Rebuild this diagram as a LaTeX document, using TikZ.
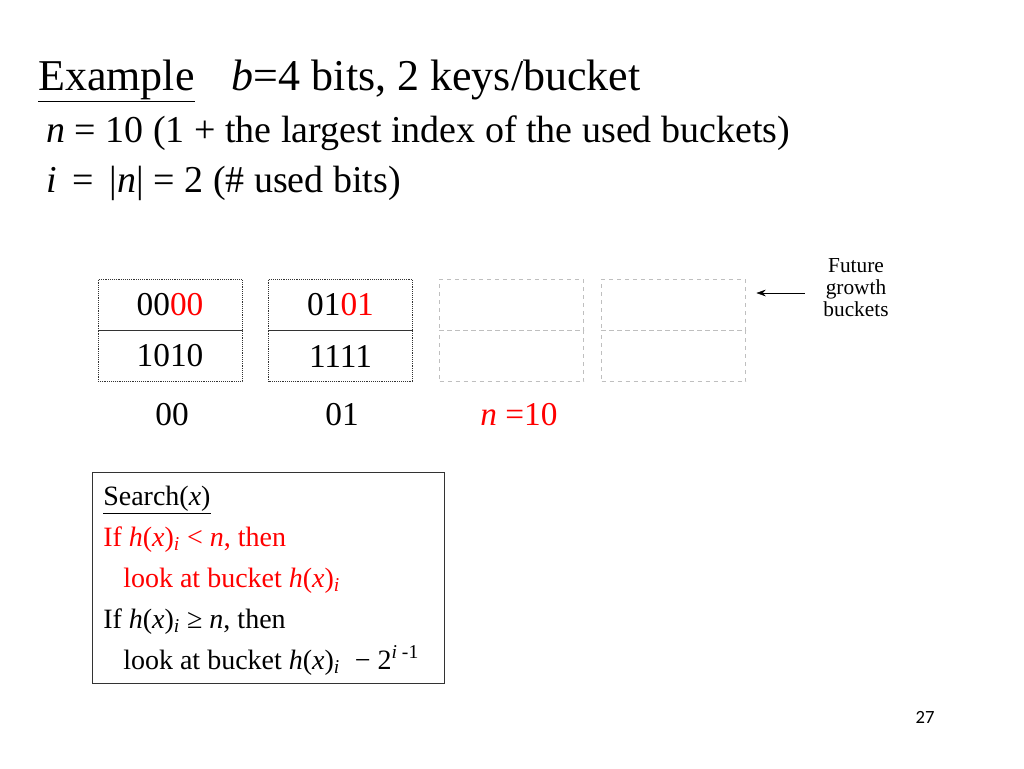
\documentclass[tikz,border=0pt]{standalone}
\usepackage{fontspec}
\usepackage{xcolor}
\usetikzlibrary{arrows.meta}
\setmainfont{Liberation Serif}
\newfontfamily\pagefont{Carlito}
\begin{document}
\begin{tikzpicture}[x=0.75pt,y=-0.75pt,
  cell/.style={draw=black!80,densely dotted,minimum width=108pt,minimum height=38.5pt,inner sep=0pt},
  ghost/.style={draw=black!25,dashed,minimum width=108pt,minimum height=38.5pt,inner sep=0pt},
  big/.style={font=\fontsize{25}{28}\selectfont},
  txt/.style={anchor=base west,font=\fontsize{21}{24}\selectfont,inner sep=0pt}]
\useasboundingbox (0,0) rectangle (1024,768);

% heading
\node[anchor=base west,inner sep=0pt,font=\fontsize{33}{36}\selectfont] (title) at (38,90) {\underline{Example}\hspace{28pt}\textit{b}=4 bits, 2 keys/bucket};
\node[anchor=base west,inner sep=0pt,font=\fontsize{28.5}{32}\selectfont] (line1) at (46,142) {\textit{n} = 10 (1 + the largest index of the used buckets)};
\node[anchor=base west,inner sep=0pt,font=\fontsize{28.5}{32}\selectfont] (line2) at (46,192) {\textit{i}\, = \,|\textit{n}| = 2 (\# used bits)};

% buckets
\node[cell,big] (b0top) at (170,305) {00\textcolor{red}{00}};
\node[cell,big] (b0bot) at (170,356) {1010};
\node[cell,big] (b1top) at (340.5,305) {01\textcolor{red}{01}};
\node[cell,big] (b1bot) at (340.5,356) {1111};
\node[ghost] (b2top) at (511.5,305) {};
\node[ghost] (b2bot) at (511.5,356) {};
\node[ghost] (b3top) at (673.5,305) {};
\node[ghost] (b3bot) at (673.5,356) {};

\node[big] (l0) at (172,415) {00};
\node[big] (l1) at (342,415) {01};
\node[big,text=red] (ln) at (519,415) {\textit{n} =10};

\node[align=center,font=\fontsize{16}{16.5}\selectfont] (future) at (856,288) {Future\\growth\\buckets};
\draw[-{Stealth[length=7pt,width=5pt]}] (future.west) ++(-14,5) coordinate (fs) -- ([xshift=8pt]b3top.east |- fs);

% search box
\draw[black!80] (92,472) rectangle (444,683);
\node[txt] (s0) at (103,505) {\underline{Search(\textit{x})}};
\node[txt,text=red] (s1) at (103,546) {If \textit{h}(\textit{x})\textsubscript{\textit{i}} < \textit{n}, then};
\node[txt,text=red] (s2) at (123,587) {look at bucket \textit{h}(\textit{x})\textsubscript{\textit{i}}};
\node[txt] (s3) at (103,628) {If \textit{h}(\textit{x})\textsubscript{\textit{i}} ≥ \textit{n}, then};
\node[txt] (s4) at (123,669) {look at bucket \textit{h}(\textit{x})\textsubscript{\textit{i}}\; − 2\textsuperscript{\textit{i} -1}};

\node[font=\pagefont\fontsize{14}{16}\selectfont] (page) at (925,717) {27};
\end{tikzpicture}
\end{document}
